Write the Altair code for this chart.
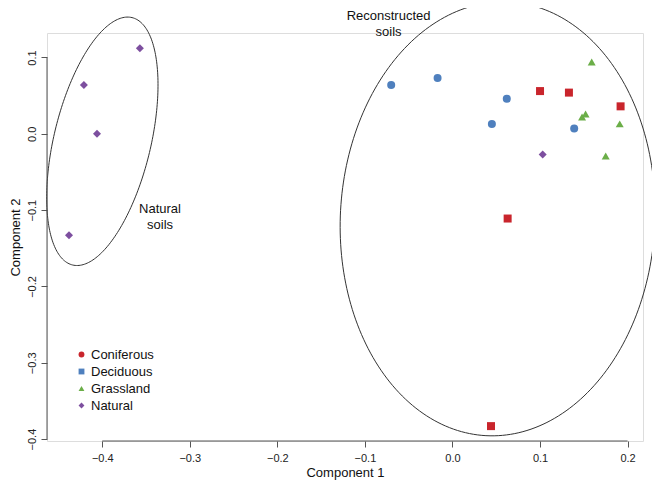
import numpy as np
import pandas as pd
import altair as alt

# ---- data ----
groups = ["Natural"] * 5 + ["Deciduous"] * 5 + ["Coniferous"] * 5 + ["Grassland"] * 5
comp1 = [-0.357, -0.421, -0.406, -0.438, 0.103,
         -0.070, -0.017, 0.062, 0.045, 0.139,
         0.100, 0.133, 0.192, 0.063, 0.044,
         0.159, 0.152, 0.148, 0.191, 0.175]
comp2 = [0.112, 0.064, 0.000, -0.133, -0.027,
         0.064, 0.073, 0.046, 0.013, 0.007,
         0.056, 0.054, 0.036, -0.111, -0.383,
         0.094, 0.026, 0.022, 0.013, -0.029]
# marker actually drawn for each group in the plot
group_order = ["Coniferous", "Deciduous", "Grassland", "Natural"]
group_colors = ["#C9252C", "#4F80BE", "#6BAE48", "#7D4F9F"]
plot_shapes = ["square", "circle", "triangle-up", "diamond"]
plot_sizes = [64, 64, 95, 50]
# symbols printed in the legend box
legend_shapes = ["circle", "square", "triangle-up", "diamond"]

# ellipses: centre, major semi-axis vector, minor semi-axis vector (data units)
ell_names = ["Natural soils", "Reconstructed soils"]
ell_cx = [-0.3999, 0.0516]
ell_cy = [-0.0098, -0.1114]
ell_ax = [0.0339, 0.0134]
ell_ay = [0.1621, 0.2841]
ell_bx = [0.0538, 0.1794]
ell_by = [-0.0148, -0.0112]

ann_text = ["Natural\nsoils", "Reconstructed\nsoils"]
ann_x = [-0.334, -0.073]
ann_y = [-0.098, 0.1547]

x_ticks = [-0.4, -0.3, -0.2, -0.1, 0.0, 0.1, 0.2]
y_ticks = [-0.4, -0.3, -0.2, -0.1, 0.0, 0.1]
x_domain = [-0.4631, 0.2176]
y_domain = [-0.4025, 0.1321]

W, H = 596, 408
FONT = "Liberation Sans"

pts = pd.DataFrame({"group": groups, "c1": comp1, "c2": comp2})

t = np.linspace(0, 2 * np.pi, 241)
rows = []
for i, name in enumerate(ell_names):
    for k, tt in enumerate(t):
        rows.append({
            "ell": name, "k": k,
            "c1": ell_cx[i] + ell_ax[i] * np.cos(tt) + ell_bx[i] * np.sin(tt),
            "c2": ell_cy[i] + ell_ay[i] * np.cos(tt) + ell_by[i] * np.sin(tt),
        })
ell = pd.DataFrame(rows)

ann = pd.DataFrame({"txt": ann_text, "c1": ann_x, "c2": ann_y})
leg = pd.DataFrame({"label": group_order})

xs = alt.Scale(domain=x_domain, nice=False, zero=False)
ys = alt.Scale(domain=y_domain, nice=False, zero=False)

x_axis = alt.Axis(values=x_ticks, format=".1f", title="Component 1", grid=False,
                  domain=False, tickSize=6, tickColor="#555555", labelColor="#222222",
                  labelFontSize=11, labelPadding=5, titleFontSize=13, titleFontWeight="normal",
                  titlePadding=3, titleColor="#111111", labelFont=FONT, titleFont=FONT,
                  labelFlush=False)
y_axis = alt.Axis(values=y_ticks, format=".1f", title="Component 2", grid=False,
                  domain=False, tickSize=6, tickColor="#555555", labelColor="#222222",
                  labelFontSize=11, labelAngle=270, labelAlign="center", labelBaseline="bottom",
                  labelPadding=4, titleFontSize=13, titleFontWeight="normal",
                  titlePadding=4, titleColor="#111111", labelFont=FONT, titleFont=FONT,
                  labelFlush=False)

ellipses = alt.Chart(ell).mark_line(color="#333333", strokeWidth=1, clip=False).encode(
    x=alt.X("c1:Q", scale=xs, axis=x_axis),
    y=alt.Y("c2:Q", scale=ys, axis=y_axis),
    detail="ell:N",
    order="k:Q",
)

points = alt.Chart(pts).mark_point(filled=True, opacity=1, strokeWidth=0).encode(
    x=alt.X("c1:Q", scale=xs, axis=x_axis),
    y=alt.Y("c2:Q", scale=ys, axis=y_axis),
    color=alt.Color("group:N", scale=alt.Scale(domain=group_order, range=group_colors), legend=None),
    shape=alt.Shape("group:N", scale=alt.Scale(domain=group_order, range=plot_shapes), legend=None),
    size=alt.Size("group:N", scale=alt.Scale(domain=group_order, range=plot_sizes), legend=None),
)

leg_style = dict(orient="none", legendX=28, legendY=315, title=None,
                 labelFontSize=13, labelFont=FONT, labelColor="#111111",
                 symbolSize=34, symbolOpacity=1, symbolStrokeWidth=0,
                 rowPadding=3, labelOffset=3, padding=0)

legend_layer = alt.Chart(leg).mark_point(filled=True, opacity=0).encode(
    x=alt.value(0),
    y=alt.value(0),
    color=alt.Color("label:N", scale=alt.Scale(domain=group_order, range=group_colors),
                    legend=alt.Legend(**leg_style)),
    shape=alt.Shape("label:N", scale=alt.Scale(domain=group_order, range=legend_shapes),
                    legend=alt.Legend(**leg_style)),
)

labels = alt.Chart(ann).mark_text(font=FONT, fontSize=13, color="#111111", lineBreak="\n",
                                  align="center", baseline="middle", lineHeight=16).encode(
    x=alt.X("c1:Q", scale=xs, axis=x_axis),
    y=alt.Y("c2:Q", scale=ys, axis=y_axis),
    text="txt:N",
)

xline = alt.Chart(pd.DataFrame({"a": [x_ticks[0]], "b": [x_ticks[-1]]})).mark_rule(
    color="#555555", strokeWidth=1).encode(
    x=alt.X("a:Q", scale=xs, axis=x_axis), x2="b:Q", y=alt.value(H))
yline = alt.Chart(pd.DataFrame({"a": [y_ticks[0]], "b": [y_ticks[-1]]})).mark_rule(
    color="#555555", strokeWidth=1).encode(
    y=alt.Y("a:Q", scale=ys, axis=y_axis), y2="b:Q", x=alt.value(0))

chart = alt.layer(ellipses, points, legend_layer, labels, xline, yline).resolve_scale(
    color="independent", shape="independent", size="independent"
).properties(
    width=W, height=H,
    autosize=alt.AutoSizeParams(type="none"),
    padding={"left": 39, "top": 25, "right": 9, "bottom": 39},
).configure_view(stroke=None).configure(font=FONT, background="white")

chart.save("out.html", embed_options={"renderer": "svg", "actions": False})
